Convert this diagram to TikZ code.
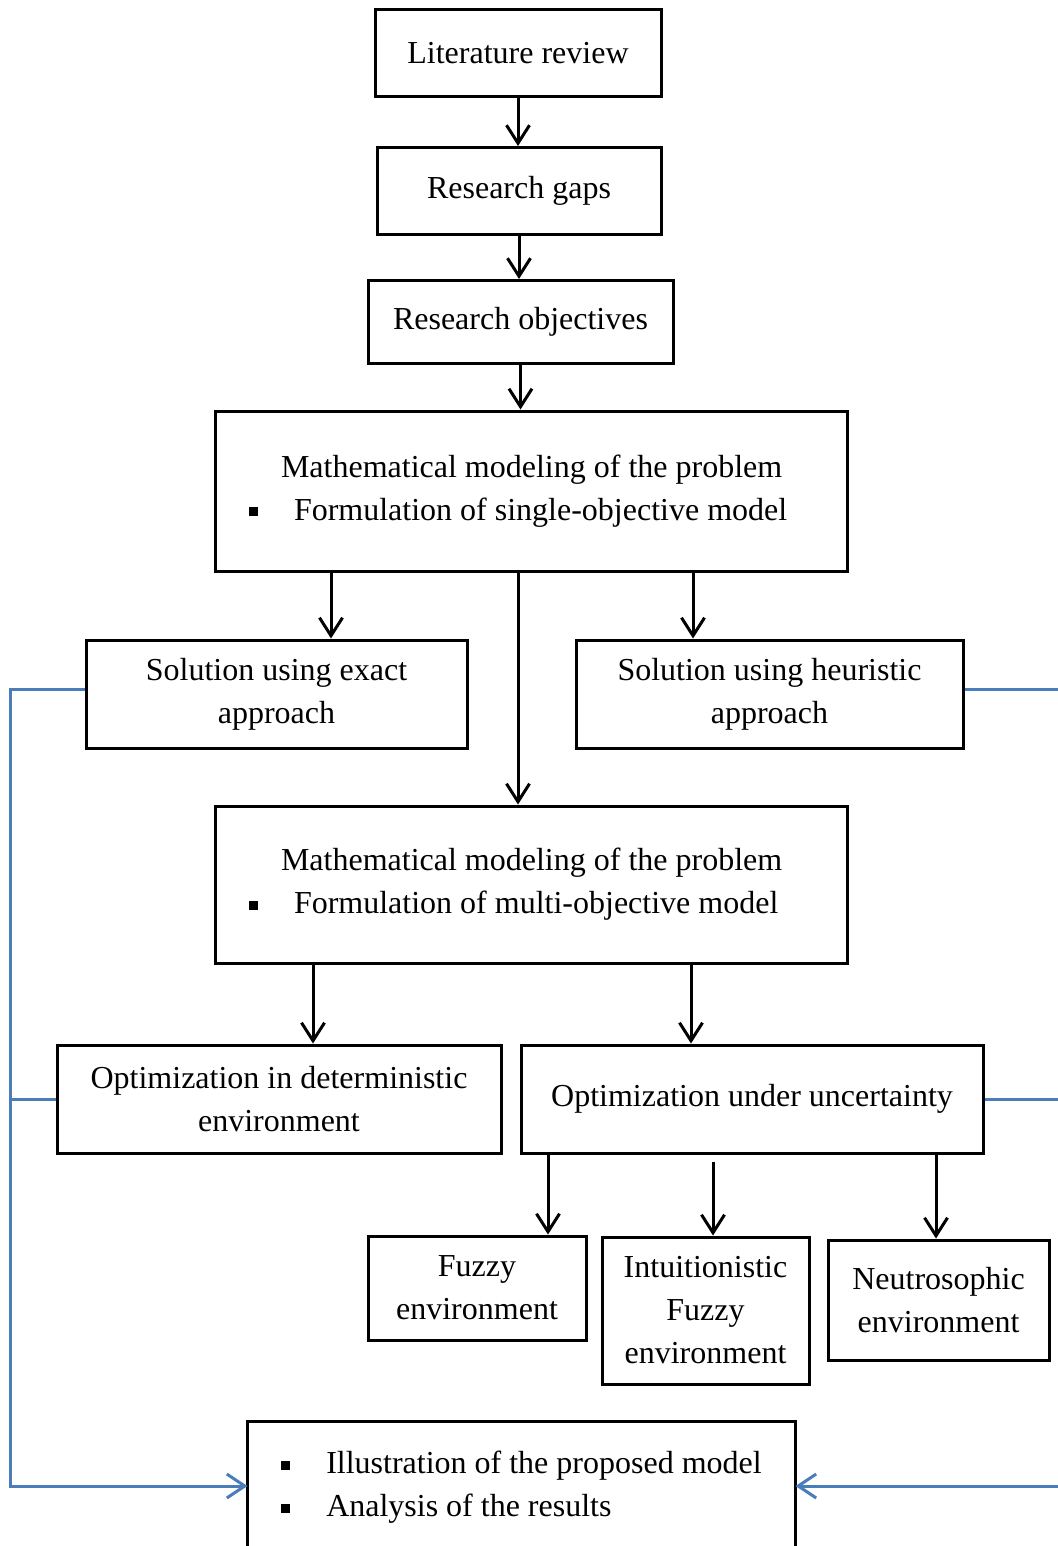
\documentclass[tikz,border=0pt]{standalone}
\usepackage{fontspec}
\setmainfont{Liberation Serif}
\usetikzlibrary{arrows.meta}
\definecolor{fblue}{RGB}{74,126,187}
% small square bullet used inside the boxes
\newcommand\sqitem{\rule[2pt]{4.5pt}{4.5pt}\hspace{18pt}}
\tikzset{
  box/.style={draw, line width=1.5pt, inner sep=0pt, align=center,
    font=\fontsize{16}{21.5}\selectfont},
  arr/.style={line width=1.5pt, -{Straight Barb[length=9pt,width=11.5pt]}},
  fb/.style={draw=fblue, line width=1.5pt},
  fbarr/.style={fb, -{Straight Barb[length=9pt,width=12pt]}},
}
\begin{document}
\begin{tikzpicture}[x=0.5pt, y=-0.5pt]
\useasboundingbox (0,0) rectangle (1057,1546);

% main chain
\node[box, minimum width=143pt, minimum height=43.5pt] (b1) at (518,53) {Literature review};
\node[box, minimum width=142pt, minimum height=43.5pt] (b2) at (519,191) {Research gaps};
\node[box, minimum width=152.5pt, minimum height=41.5pt] (b3) at (520.5,322) {Research objectives};
\node[box, minimum width=316pt, minimum height=80pt, inner xsep=17pt, text width=282pt, align=flush left] (b4) at (531,491)
  {\hspace*{16pt}Mathematical modeling of the problem\\ \sqitem Formulation of single-objective model};
\node[box, minimum width=190.5pt, minimum height=54pt] (b5) at (276.5,694) {Solution using exact\\approach};
\node[box, minimum width=193.5pt, minimum height=54pt] (b6) at (769.5,694) {Solution using heuristic\\approach};
\node[box, minimum width=316pt, minimum height=78.5pt, inner xsep=17pt, text width=282pt, align=flush left] (b7) at (531,884.5)
  {\hspace*{16pt}Mathematical modeling of the problem\\ \sqitem Formulation of multi-objective model};
\node[box, minimum width=222pt, minimum height=54pt] (b8) at (279,1099) {Optimization in deterministic\\environment};
\node[box, minimum width=231pt, minimum height=54pt] (b9) at (752,1099) {Optimization under uncertainty};
\node[box, minimum width=109pt, minimum height=52pt] (b10) at (477,1288) {Fuzzy\\environment};
\node[box, minimum width=103.5pt, minimum height=73.5pt] (b11) at (705.5,1310.5) {Intuitionistic\\Fuzzy\\environment};
\node[box, minimum width=110.5pt, minimum height=60pt] (b12) at (938.5,1300) {Neutrosophic\\environment};

% final box, open at the bottom edge
\node[box, draw=none, minimum width=272.5pt, minimum height=61.5pt, align=flush left] (b13) at (521.5,1487.5)
  {\sqitem Illustration of the proposed model\\ \sqitem Analysis of the results};
\draw[line width=1.5pt] ([yshift=-20pt]b13.south west) |- ([yshift=1.5pt]b13.north east) -- ([yshift=-20pt]b13.south east);

% black connectors
\draw[arr] (b1.south) -- (b1.south |- b2.north);
\draw[arr] (b2.south) -- (b2.south |- b3.north);
\draw[arr] (b3.south) -- (b3.south |- b4.north);
\draw[arr] (b4.south -| 331,0) -- (b5.north -| 331,0);
\draw[arr] (b4.south -| 693,0) -- (b6.north -| 693,0);
\draw[arr] (b4.south -| 518,0) -- (b7.north -| 518,0);
\draw[arr] (b7.south -| 313,0) -- (b8.north -| 313,0);
\draw[arr] (b7.south -| 691,0) -- (b9.north -| 691,0);
\draw[arr] (b9.south -| 548,0) -- (b10.north -| 548,0);
\draw[arr] ([yshift=-3.5pt]b9.south -| 713,0) -- (b11.north -| 713,0);
\draw[arr] (b9.south -| 936,0) -- (b12.north -| 936,0);

% blue feedback rails
\coordinate (lrail) at (10,0);
\coordinate (rrail) at (1080,0);
\draw[fbarr] ([yshift=2.5pt]b5.west) -- ([yshift=2.5pt]b5.west -| lrail) |- ([yshift=0.75pt]b13.west);
\draw[fb] (b8.west) -- (b8.west -| lrail);
\draw[fbarr] ([yshift=2.5pt]b6.east) -- ([yshift=2.5pt]b6.east -| rrail) |- ([yshift=0.75pt]b13.east);
\draw[fb] (b9.east) -- (b9.east -| rrail);
\end{tikzpicture}
\end{document}
